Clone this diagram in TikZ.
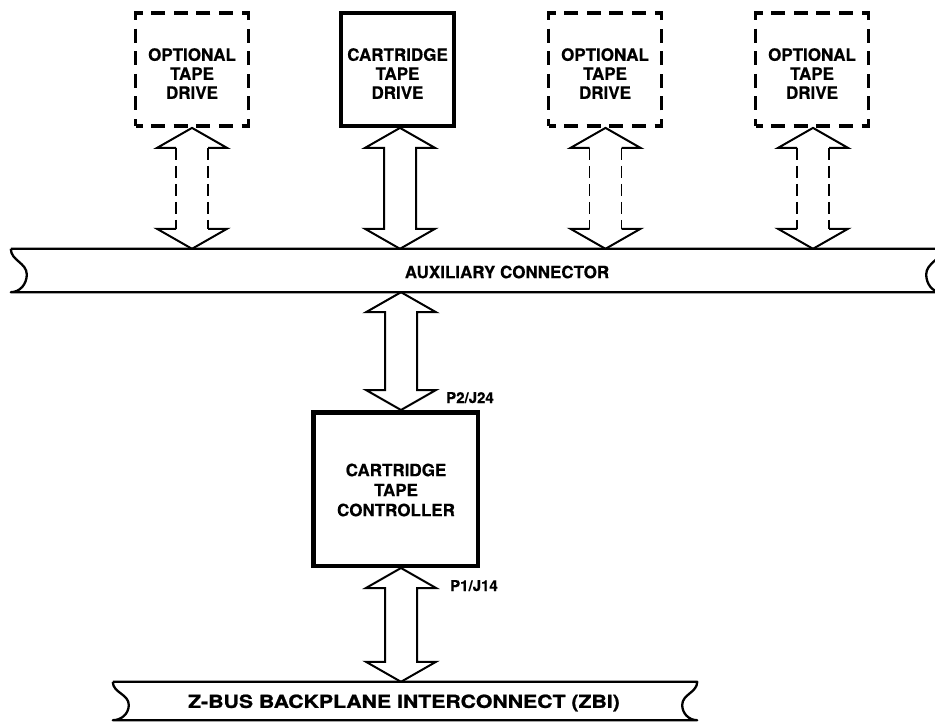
\documentclass[tikz,border=0pt]{standalone}
\usepackage{fontspec}
\setmainfont{TeX Gyre Heros}[BoldFeatures={FakeBold=0.4}]
\newfontfamily\heavyfont[FakeBold=1.2,FakeStretch=1.18]{TeX Gyre Heros}
\usetikzlibrary{calc}

% solid double-headed bus arrow between two nodes at the x of a coordinate
\newcommand\solidbusarrow[3]{%
  \coordinate (t) at (#3 |- #1.south);
  \coordinate (b) at (#3 |- #2.north);
  \draw[arrowline] (t) -- ($(t)+(35,20)$) -- ($(t)+(16,20)$) -- ($(b)+(16,-20)$)
    -- ($(b)+(35,-20)$) -- (b) -- ($(b)+(-35,-20)$) -- ($(b)+(-16,-20)$)
    -- ($(t)+(-16,20)$) -- ($(t)+(-35,20)$) -- cycle;
}
% the same arrow with a dashed shaft (optional links)
\newcommand\dashedbusarrow[3]{%
  \coordinate (t) at (#3 |- #1.south);
  \coordinate (b) at (#3 |- #2.north);
  \draw[arrowline] ($(t)+(-16,20)$) -- ($(t)+(-35,20)$) -- (t) -- ($(t)+(35,20)$) -- ($(t)+(16,20)$);
  \draw[arrowline] ($(b)+(-16,-20)$) -- ($(b)+(-35,-20)$) -- (b) -- ($(b)+(35,-20)$) -- ($(b)+(16,-20)$);
  \draw[arrowline,shaftdash] ($(t)+(-16,20)$) -- ($(b)+(-16,-20)$);
  \draw[arrowline,shaftdash] ($(t)+(16,20)$) -- ($(b)+(16,-20)$);
}
% bus outline with broken ends around an invisible node
\newcommand\busoutline[1]{%
  \draw[busline] (#1.north west) -- (#1.north east)
    to[out=-90,in=90] ($(#1.east)+(-15,4)$) to[out=-90,in=180] (#1.south east)
    -- (#1.south west)
    to[out=0,in=-90] ($(#1.west)+(16,4)$) to[out=90,in=-90] (#1.north west);
}

\begin{document}
\begin{tikzpicture}[x=1pt,y=-1pt,
  drivebox/.style={draw, line width=3.8pt, inner sep=0pt,
    minimum width=113pt, minimum height=113pt},
  optbox/.style={drivebox, dash pattern=on 14pt off 8.6pt, dash phase=7pt},
  ctlbox/.style={draw, line width=4.5pt, inner sep=0pt,
    minimum width=164.5pt, minimum height=153.5pt},
  boxtext/.style={font=\fontsize{17}{19}\selectfont\bfseries, align=center, inner sep=0pt},
  ctltext/.style={font=\fontsize{17}{20}\selectfont\bfseries, align=center, inner sep=0pt},
  pintext/.style={font=\fontsize{15}{17}\selectfont\bfseries, inner sep=0pt, anchor=base west},
  busarea/.style={inner sep=0pt, draw=none},
  busline/.style={line width=2.3pt, line join=round},
  arrowline/.style={line width=2pt, line join=miter},
  shaftdash/.style={line width=1.6pt, dash pattern=on 12pt off 6pt},
]
\useasboundingbox (0,0) rectangle (935,723);

% tape drives
\node[optbox]   (d1) at (192,69.5) {};
\node[drivebox] (d2) at (397.5,69.5) {};
\node[optbox]   (d3) at (605,69.5) {};
\node[optbox]   (d4) at (812,69.5) {};
\node[boxtext] (d1t) at ([yshift=-4pt]d1.center) {OPTIONAL\\TAPE\\DRIVE};
\node[boxtext] (d2t) at ([yshift=-4pt]d2.center) {CARTRIDGE\\TAPE\\DRIVE};
\node[boxtext] (d3t) at ([yshift=-4pt]d3.center) {OPTIONAL\\TAPE\\DRIVE};
\node[boxtext] (d4t) at ([yshift=-4pt]d4.center) {OPTIONAL\\TAPE\\DRIVE};

% auxiliary connector bus
\node[busarea, minimum width=930pt, minimum height=43pt] (aux) at (476,270.5) {};
\busoutline{aux}
\node[font=\fontsize{17}{19}\selectfont\bfseries] (auxt) at (507,272) {AUXILIARY CONNECTOR};

% controller
\node[ctlbox] (ctl) at (395.5,489) {};
\node[ctltext] (ctlt) at (396,490) {CARTRIDGE\\TAPE\\CONTROLLER};

% Z-bus backplane
\node[busarea, minimum width=584pt, minimum height=38pt] (zbi) at (405,701) {};
\busoutline{zbi}
\node[font=\heavyfont\bfseries\fontsize{18}{20}\selectfont] (zbit) at (404,703)
  {Z-BUS BACKPLANE INTERCONNECT (ZBI)};

% arrow positions
\coordinate (x1) at (192,0);
\coordinate (x2) at (400,0);
\coordinate (x3) at (605.5,0);
\coordinate (x4) at (813,0);
\coordinate (x5) at (401,0);

\dashedbusarrow{d1}{aux}{x1}
\solidbusarrow{d2}{aux}{x2}
\dashedbusarrow{d3}{aux}{x3}
\dashedbusarrow{d4}{aux}{x4}
\solidbusarrow{aux}{ctl}{x5}
\solidbusarrow{ctl}{zbi}{x5}

% connector designations
\node[pintext] (p2) at (446,403) {P2/J24};
\node[pintext] (p1) at (450,591) {P1/J14};
\end{tikzpicture}
\end{document}
